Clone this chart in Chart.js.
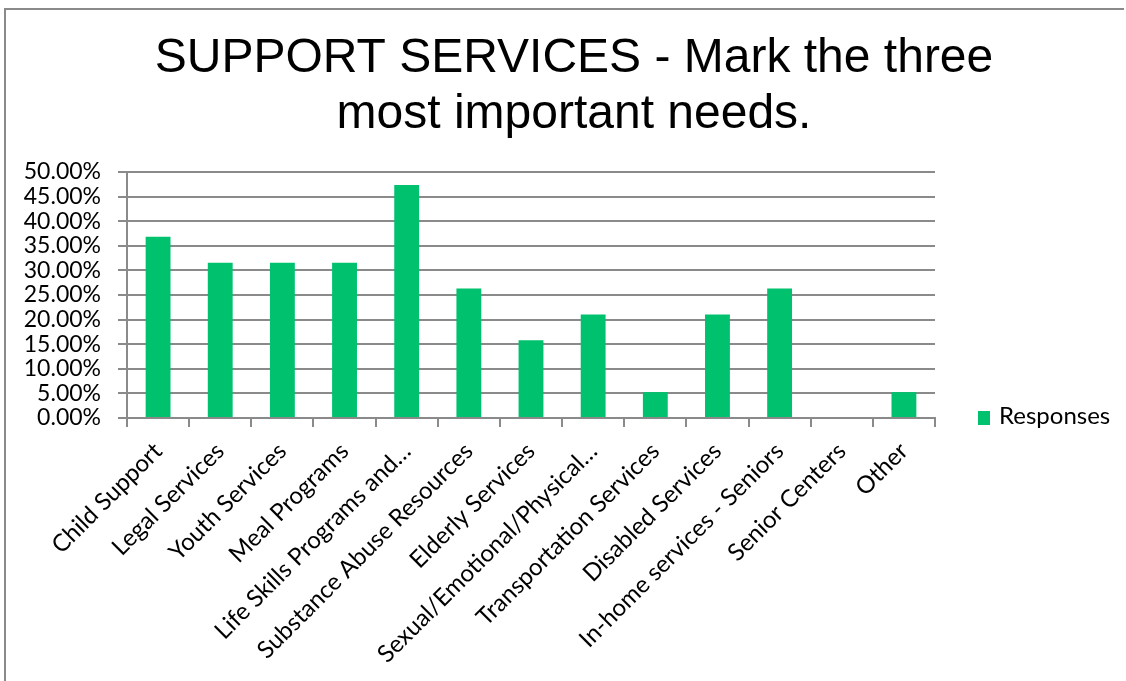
<!DOCTYPE html>
<html>
<head>
<meta charset="utf-8">
<script src="https://cdn.jsdelivr.net/npm/chart.js@4/dist/chart.umd.min.js"></script>
<style>
  body { margin: 0; background: #fff; }
  #wrap { position: relative; width: 1126px; height: 681px; }
  #frame { position: absolute; left: 4px; top: 8px; width: 1120px; height: 680px;
           border-left: 2px solid #8a8a8a; border-top: 2px solid #8a8a8a; box-sizing: border-box; }
  #legend { position: absolute; left: 978px; top: 400px; font: 24px Lato, sans-serif; color: #000; white-space: nowrap; }
  #legend span.box { display: inline-block; width: 12px; height: 14px; background: #00C16E; margin-right: 9px; vertical-align: -1px; }
</style>
</head>
<body>
<div id="wrap">
  <div id="frame"></div>
  <canvas id="grafico" width="1126" height="681"></canvas>
  <div id="legend"><span class="box"></span>Responses</div>
</div>
<script>
const categorias = [
  "Child Support", "Legal Services", "Youth Services", "Meal Programs",
  "Life Skills Programs and…", "Substance Abuse Resources", "Elderly Services",
  "Sexual/Emotional/Physical…", "Transportation Services", "Disabled Services",
  "In-home services - Seniors", "Senior Centers", "Other"
];
const respostas = [36.84, 31.58, 31.58, 31.58, 47.37, 26.32, 15.79, 21.05, 5.26, 21.05, 26.32, 0, 5.26];
const titulo = ["SUPPORT SERVICES - Mark the three", "most important needs."];

const cinza = "#8a8a8a";

new Chart(document.getElementById("grafico").getContext("2d"), {
  type: "bar",
  data: {
    labels: categorias,
    datasets: [{
      label: "Responses",
      data: respostas,
      backgroundColor: "#00C16E",
      barPercentage: 0.4,
      categoryPercentage: 1
    }]
  },
  options: {
    responsive: false,
    animation: false,
    layout: { padding: { left: 22, right: 0, top: 0, bottom: 0 } },
    plugins: {
      legend: { display: false },
      tooltip: { enabled: false },
      title: {
        display: true,
        text: titulo,
        color: "#000",
        font: { family: "Liberation Sans", size: 48, weight: "normal", lineHeight: 1.167 },
        padding: { top: 31, bottom: 29 }
      }
    },
    scales: {
      x: {
        grid: { drawOnChartArea: false, drawTicks: true, tickLength: 9, color: cinza, lineWidth: 2, offset: true },
        border: { color: cinza, width: 2 },
        ticks: { color: "#000", font: { family: "Lato", size: 24 }, minRotation: 45, maxRotation: 45, autoSkip: false, padding: 10 },
        afterFit: s => { s.height = 681 - 418; }
      },
      y: {
        min: 0, max: 50,
        grid: { color: cinza, lineWidth: 2, tickLength: 9 },
        border: { color: cinza, width: 2 },
        ticks: { stepSize: 5, color: "#000", font: { family: "Lato", size: 23 }, padding: 17, autoSkip: false,
                 callback: v => v.toFixed(2) + "%" },
        afterFit: s => { s.width = 127 - 22; }
      },
      // espaço à direita para a legenda (mantém o título centrado no quadro todo)
      espaco: {
        type: "linear",
        position: "right",
        grid: { display: false },
        border: { display: false },
        ticks: { display: false },
        afterFit: s => { s.width = 1126 - 935; }
      }
    }
  }
});
</script>
</body>
</html>
